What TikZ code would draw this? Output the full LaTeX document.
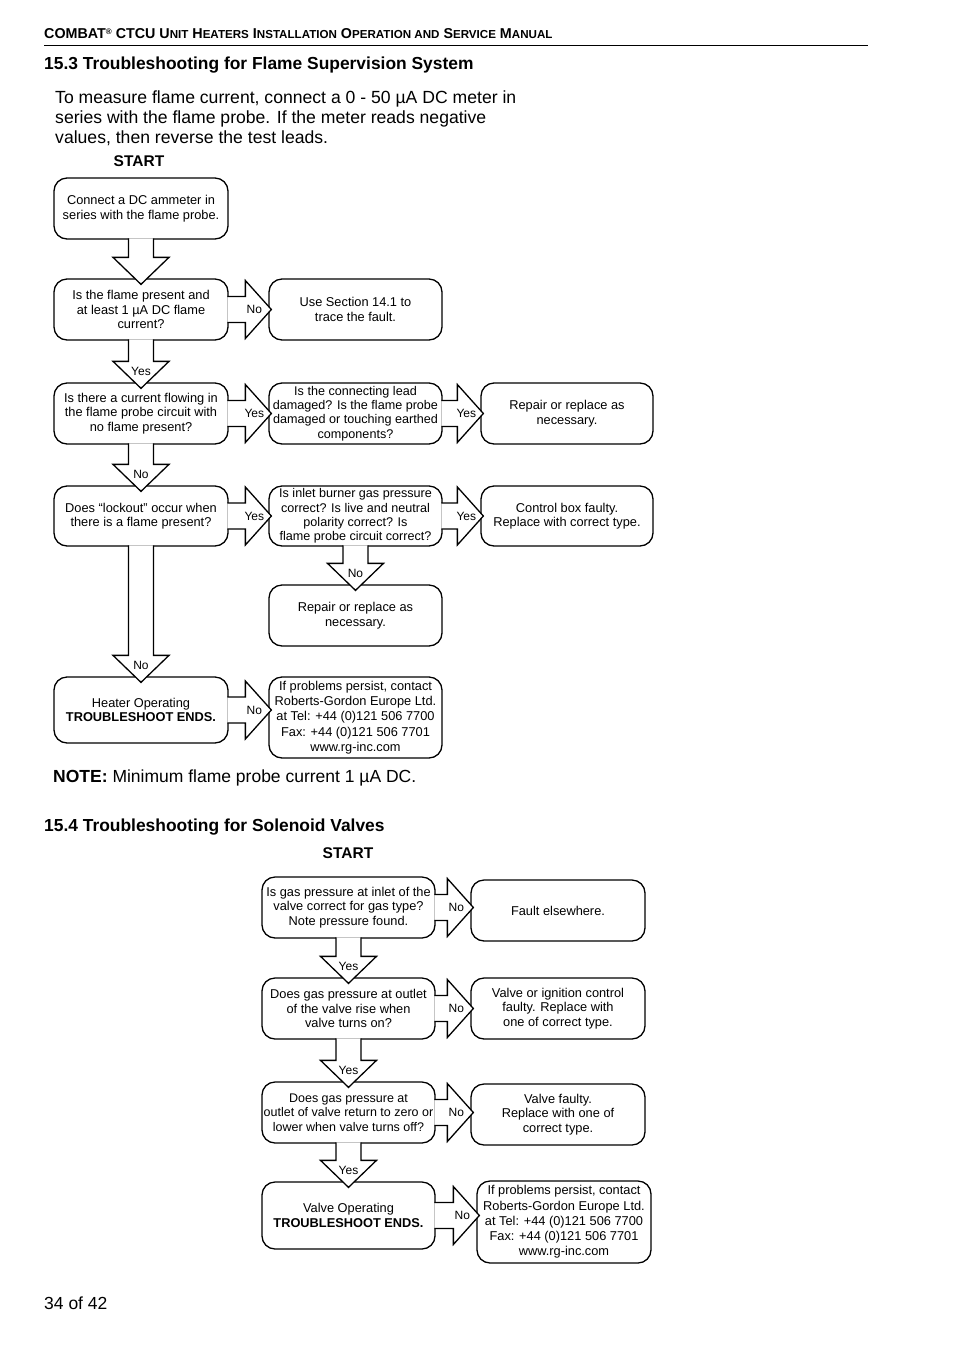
\documentclass[tikz,border=0pt]{standalone}
\usepackage{fontspec}
\setmainfont{Liberation Sans}
\usetikzlibrary{calc}
\tikzset{
  box/.style={draw, line width=1.3pt, rounded corners=13pt, align=center, inner sep=0.5pt,
    font=\fontsize{12.8}{14.5}\selectfont, minimum width=174pt, minimum height=61pt},
  arr/.style={draw, fill=white, line width=1.3pt, line join=miter},
  lbl/.style={font=\fontsize{12}{14}\selectfont, inner sep=0pt},
  txt/.style={inner sep=0pt, anchor=base west},
}
\newcommand{\varr}[4]{%
  \draw[arr] let \p1=(#1.south), \p2=(#2.north) in
    (\x1-12.5pt,\y1+1.2pt) -- (\x1-12.5pt,\y2+21pt) -- (\x1-28pt,\y2+21pt) -- (\x1,\y2-6pt)
    -- (\x1+28pt,\y2+21pt) -- (\x1+12.5pt,\y2+21pt) -- (\x1+12.5pt,\y1+1.2pt);
  \path let \p1=(#1.south), \p2=(#2.north) in node[lbl] (#4) at (\x1,\y2+11pt) {#3};
}
\newcommand{\harr}[4]{%
  \draw[arr] let \p1=(#1.east), \p2=(#2.west) in
    (\x1-1.2pt,\y1+13pt) -- (\x2-23pt,\y1+13pt) -- (\x2-23pt,\y1+29pt) -- (\x2+3pt,\y1)
    -- (\x2-23pt,\y1-29pt) -- (\x2-23pt,\y1-13pt) -- (\x1-1.2pt,\y1-13pt);
  \path let \p1=(#1.east), \p2=(#2.west) in node[lbl] (#4) at (\x2-14pt,\y1) {#3};
}
\begin{document}
\begin{tikzpicture}[x=1pt,y=-1pt]
\useasboundingbox (0,0) rectangle (954,1350);
\fill[white] (0,0) rectangle (954,1350);

% header
\node[txt, font=\bfseries\fontsize{14.3}{16}\selectfont] (hdr) at (44,38)
  {COMBAT\raisebox{0.45ex}{\fontsize{8}{9}\selectfont\textregistered} CTCU U{\fontsize{11.6}{13}\selectfont NIT} H{\fontsize{11.6}{13}\selectfont EATERS} I{\fontsize{11.6}{13}\selectfont NSTALLATION} O{\fontsize{11.6}{13}\selectfont PERATION AND} S{\fontsize{11.6}{13}\selectfont ERVICE} M{\fontsize{11.6}{13}\selectfont ANUAL}};
\coordinate (rl) at (44,45);
\coordinate (rr) at (868,45);
\draw[line width=0.9pt] (rl) -- (rr);

\node[txt, font=\bfseries\fontsize{17.4}{19}\selectfont] (h153) at (44,69)
  {15.3 Troubleshooting for Flame Supervision System};
\node[inner sep=0pt, anchor=north west, align=left, font=\fontsize{17.6}{19.8}\selectfont] (intro) at (55,91)
  {To measure flame current, connect a 0 - 50 µA DC meter in\\
   series with the flame probe. If the meter reads negative\\
   values, then reverse the test leads.};
\node[font=\bfseries\fontsize{15.5}{17}\selectfont, inner sep=0pt] (start1) at (139,161) {START};

% section 15.3 boxes
\node[box] (b1) at (141,208.5) {Connect a DC ammeter in\\series with the flame probe.};
\node[box] (b2) at (141,309.5) {Is the flame present and\\at least 1 µA DC flame\\current?};
\node[box, minimum width=173pt] (b3) at (355.5,309.5) {Use Section 14.1 to\\trace the fault.};
\node[box] (b4) at (141,413.5) {Is there a current flowing in\\the flame probe circuit with\\no flame present?};
\node[box, minimum width=173pt, font=\fontsize{12.6}{14.3}\selectfont] (b5) at (355.5,413.5) {Is the connecting lead\\damaged? Is the flame probe\\damaged or touching earthed\\components?};
\node[box, minimum width=172pt] (b6) at (567,413.5) {Repair or replace as\\necessary.};
\node[box, minimum height=60pt] (b7) at (141,516) {Does “lockout” occur when\\there is a flame present?};
\node[box, minimum width=173pt, minimum height=60pt, font=\fontsize{12.6}{14.3}\selectfont] (b8) at (355.5,516) {Is inlet burner gas pressure\\correct? Is live and neutral\\polarity correct? Is\\flame probe circuit correct?};
\node[box, minimum width=172pt, minimum height=60pt] (b9) at (567,516) {Control box faulty.\\Replace with correct type.};
\node[box, minimum width=173pt] (b10) at (355.5,615.5) {Repair or replace as\\necessary.};
\node[box, minimum height=66pt] (b11) at (141,710) {Heater Operating\\\textbf{TROUBLESHOOT ENDS.}};
\node[box, minimum width=173pt, minimum height=81pt, font=\fontsize{12.8}{15.2}\selectfont] (b12) at (355.5,717.5) {If problems persist, contact\\Roberts-Gordon Europe Ltd.\\at Tel: +44 (0)121 506 7700\\Fax: +44 (0)121 506 7701\\www.rg-inc.com};

\varr{b1}{b2}{}{l1}
\varr{b2}{b4}{Yes}{l2}
\varr{b4}{b7}{No}{l3}
\varr{b7}{b11}{No}{l4}
\varr{b8}{b10}{No}{l5}
\harr{b2}{b3}{No}{l6}
\harr{b4}{b5}{Yes}{l7}
\harr{b5}{b6}{Yes}{l8}
\harr{b7}{b8}{Yes}{l9}
\harr{b8}{b9}{Yes}{l10}
\harr{b11}{b12}{No}{l11}

\node[txt, font=\fontsize{17.5}{19}\selectfont] (note) at (53,782) {\textbf{NOTE:} Minimum flame probe current 1 µA DC.};

% section 15.4
\node[txt, font=\bfseries\fontsize{17.4}{19}\selectfont] (h154) at (44,831)
  {15.4 Troubleshooting for Solenoid Valves};
\node[font=\bfseries\fontsize{15.5}{17}\selectfont, inner sep=0pt] (start2) at (348,853) {START};

\node[box, minimum width=173pt] (c1) at (348.5,907.5) {Is gas pressure at inlet of the\\valve correct for gas type?\\Note pressure found.};
\node[box] (c2) at (558,910.5) {Fault elsewhere.};
\node[box, minimum width=173pt] (c3) at (348.5,1008.5) {Does gas pressure at outlet\\of the valve rise when\\valve turns on?};
\node[box] (c4) at (558,1008.5) {Valve or ignition control\\faulty. Replace with\\one of correct type.};
\node[box, minimum width=173pt, font=\fontsize{12.5}{14.5}\selectfont] (c5) at (348.5,1112.5) {Does gas pressure at\\outlet of valve return to zero or\\lower when valve turns off?};
\node[box] (c6) at (558,1114.5) {Valve faulty.\\Replace with one of\\correct type.};
\node[box, minimum width=173pt, minimum height=67pt] (c7) at (348.5,1215.5) {Valve Operating\\\textbf{TROUBLESHOOT ENDS.}};
\node[box, minimum height=82pt, font=\fontsize{12.8}{15.2}\selectfont] (c8) at (564,1222) {If problems persist, contact\\Roberts-Gordon Europe Ltd.\\at Tel: +44 (0)121 506 7700\\Fax: +44 (0)121 506 7701\\www.rg-inc.com};

\varr{c1}{c3}{Yes}{m1}
\varr{c3}{c5}{Yes}{m2}
\varr{c5}{c7}{Yes}{m3}
\harr{c1}{c2}{No}{m4}
\harr{c3}{c4}{No}{m5}
\harr{c5}{c6}{No}{m6}
\harr{c7}{c8}{No}{m7}

\node[txt, font=\fontsize{17.5}{19}\selectfont] (page) at (44,1309) {34 of 42};
\end{tikzpicture}
\end{document}
